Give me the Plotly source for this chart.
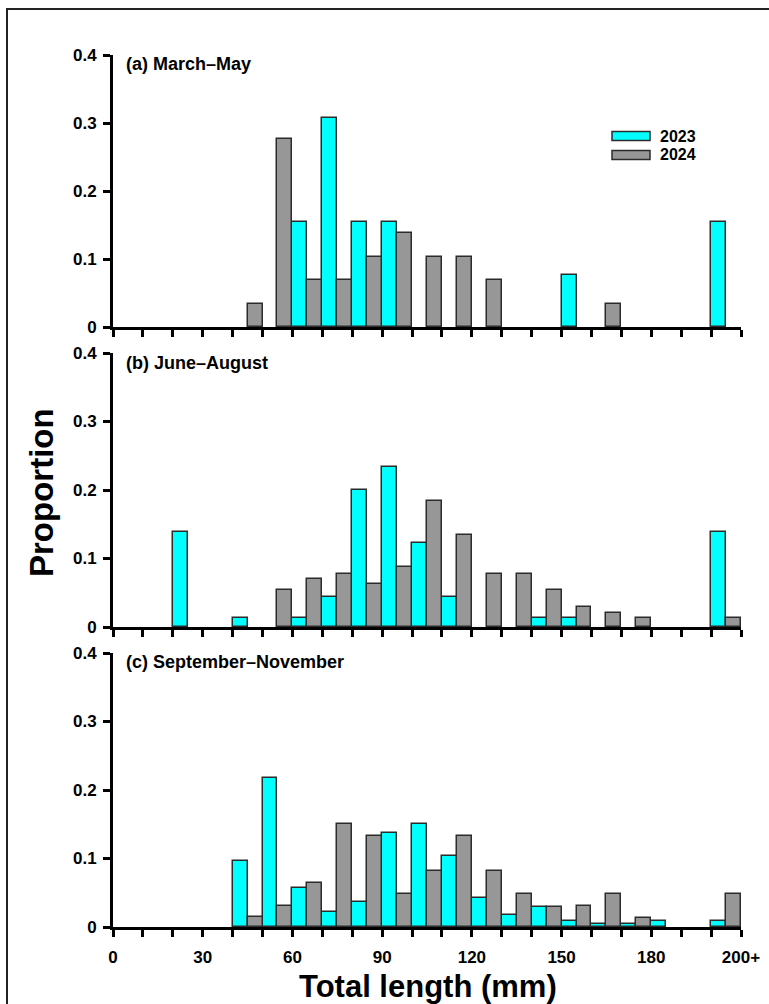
import plotly.graph_objects as go

# Size classes: 10 mm bins from 0 to 200, last bin is 200+
bin_start = list(range(0, 210, 10))
tick_positions = list(range(0, 220, 10))
tick_labels = {0: "0", 30: "30", 60: "60", 90: "90", 120: "120", 150: "150", 180: "180", 210: "200+"}

y_ticks = [0, 0.1, 0.2, 0.3, 0.4]
y_tick_text = ["0", "0.1", "0.2", "0.3", "0.4"]

years = ["2023", "2024"]
colors = {"2023": "#00FFFF", "2024": "#979797"}

panel_titles = ["(a) March–May", "(b) June–August", "(c) September–November"]

# Proportion of fish per size class
spring_2023 = [0, 0, 0, 0, 0, 0, 0.154, 0.308, 0.154, 0.154, 0, 0, 0, 0, 0, 0.077, 0, 0, 0, 0, 0.154]
spring_2024 = [0, 0, 0, 0, 0.034, 0.276, 0.069, 0.069, 0.103, 0.138, 0.103, 0.103, 0.069, 0, 0, 0, 0.034, 0, 0, 0, 0]
summer_2023 = [0, 0, 0.138, 0, 0.013, 0, 0.013, 0.044, 0.200, 0.233, 0.122, 0.044, 0, 0, 0.013, 0.013, 0, 0, 0, 0, 0.138]
summer_2024 = [0, 0, 0, 0, 0, 0.054, 0.070, 0.078, 0.063, 0.087, 0.184, 0.135, 0.077, 0.077, 0.054, 0.029, 0.020, 0.013, 0, 0, 0.013]
autumn_2023 = [0, 0, 0, 0, 0.096, 0.218, 0.057, 0.022, 0.037, 0.137, 0.151, 0.103, 0.042, 0.017, 0.029, 0.009, 0.004, 0.004, 0.009, 0, 0.009]
autumn_2024 = [0, 0, 0, 0, 0.014, 0.030, 0.064, 0.150, 0.133, 0.048, 0.082, 0.133, 0.082, 0.048, 0.029, 0.030, 0.048, 0.013, 0, 0, 0.048]

panels = [
    {"2023": spring_2023, "2024": spring_2024},
    {"2023": summer_2023, "2024": summer_2024},
    {"2023": autumn_2023, "2024": autumn_2024},
]

W, H = 769, 1004
# pixel extents of each panel (top, bottom) and of the x axis (left, right)
x_left, x_right = 113, 741
panel_px = [(55, 327), (353, 627), (653, 927)]

def px_x(p):
    return p / W

def px_y(p):
    return 1 - p / H

FONT = "Liberation Sans, Arial, sans-serif"

fig = go.Figure()
centers = [b + 5 for b in bin_start]

for i, data in enumerate(panels):
    suffix = "" if i == 0 else str(i + 1)
    for yr in years:
        vals = [v if v > 0 else None for v in data[yr]]
        fig.add_trace(go.Bar(
            x=centers, y=vals, name=yr,
            xaxis="x" + suffix, yaxis="y" + suffix,
            marker=dict(color=colors[yr], line=dict(color="#2b2b2b", width=1.5)),
            showlegend=False,
            offsetgroup=yr,
        ))

layout = dict(
    width=W, height=H,
    margin=dict(l=0, r=0, t=0, b=0, pad=0, autoexpand=False),
    paper_bgcolor="white", plot_bgcolor="white",
    barmode="group", bargap=0, bargroupgap=0,
    showlegend=False,
    font=dict(family=FONT, color="black"),
)

for i, (top, bot) in enumerate(panel_px):
    suffix = "" if i == 0 else str(i + 1)
    show_x = i == 2
    layout["xaxis" + suffix] = dict(
        domain=[px_x(x_left), px_x(x_right)],
        range=[0, 210],
        anchor="y" + suffix,
        automargin=False,
        tickmode="array",
        tickvals=tick_positions,
        ticktext=[tick_labels.get(t, "") for t in tick_positions],
        showticklabels=show_x,
        ticks="outside", ticklen=7, tickwidth=3, tickcolor="black",
        showline=True, linecolor="black", linewidth=3,
        showgrid=False, zeroline=False,
        tickfont=dict(family=FONT, size=17, color="black", weight="bold"),
        ticklabelstandoff=6,
        layer="above traces",
        fixedrange=True,
    )
    layout["yaxis" + suffix] = dict(
        domain=[px_y(bot), px_y(top)],
        range=[0, 0.4],
        anchor="x" + suffix,
        automargin=False,
        tickmode="array",
        tickvals=y_ticks,
        ticktext=y_tick_text,
        ticks="outside", ticklen=7, tickwidth=3, tickcolor="black",
        showline=True, linecolor="black", linewidth=3,
        showgrid=False, zeroline=False,
        tickfont=dict(family=FONT, size=17, color="black", weight="bold"),
        ticklabelstandoff=3,
        layer="above traces",
        fixedrange=True,
    )

annotations = []
label_centers = [64, 363, 662]
for title, yc in zip(panel_titles, label_centers):
    annotations.append(dict(
        text=title, xref="paper", yref="paper",
        x=px_x(124), y=px_y(yc), xanchor="left", yanchor="middle",
        showarrow=False,
        font=dict(family=FONT, size=18, color="black", weight="bold"),
    ))

annotations.append(dict(
    text="Total length (mm)", xref="paper", yref="paper",
    x=px_x(428), y=px_y(986), xanchor="center", yanchor="middle",
    showarrow=False,
    font=dict(family=FONT, size=31, color="black", weight="bold"),
))
annotations.append(dict(
    text="Proportion", xref="paper", yref="paper",
    x=px_x(41), y=px_y(493), xanchor="center", yanchor="middle",
    textangle=-90, showarrow=False,
    font=dict(family=FONT, size=33, color="black", weight="bold"),
))

# legend keys
shapes = []
legend_rows = [("2023", 136), ("2024", 155)]
for yr, yc in legend_rows:
    shapes.append(dict(
        type="rect", xref="paper", yref="paper",
        x0=px_x(612), x1=px_x(650), y0=px_y(yc + 4.5), y1=px_y(yc - 4.5),
        fillcolor=colors[yr], line=dict(color="#2b2b2b", width=1.5),
    ))
    annotations.append(dict(
        text=yr, xref="paper", yref="paper",
        x=px_x(658), y=px_y(yc), xanchor="left", yanchor="middle",
        showarrow=False,
        font=dict(family=FONT, size=16, color="black", weight="bold"),
    ))

# outer frame (top and left edges visible, the rest runs off the page)
shapes.append(dict(
    type="rect", xref="paper", yref="paper",
    x0=px_x(7), x1=px_x(W + 20), y0=px_y(H + 20), y1=px_y(9),
    line=dict(color="#222222", width=2), fillcolor="rgba(0,0,0,0)",
    layer="below",
))

layout["annotations"] = annotations
layout["shapes"] = shapes
fig.update_layout(**layout)

fig.write_html("out.html")
